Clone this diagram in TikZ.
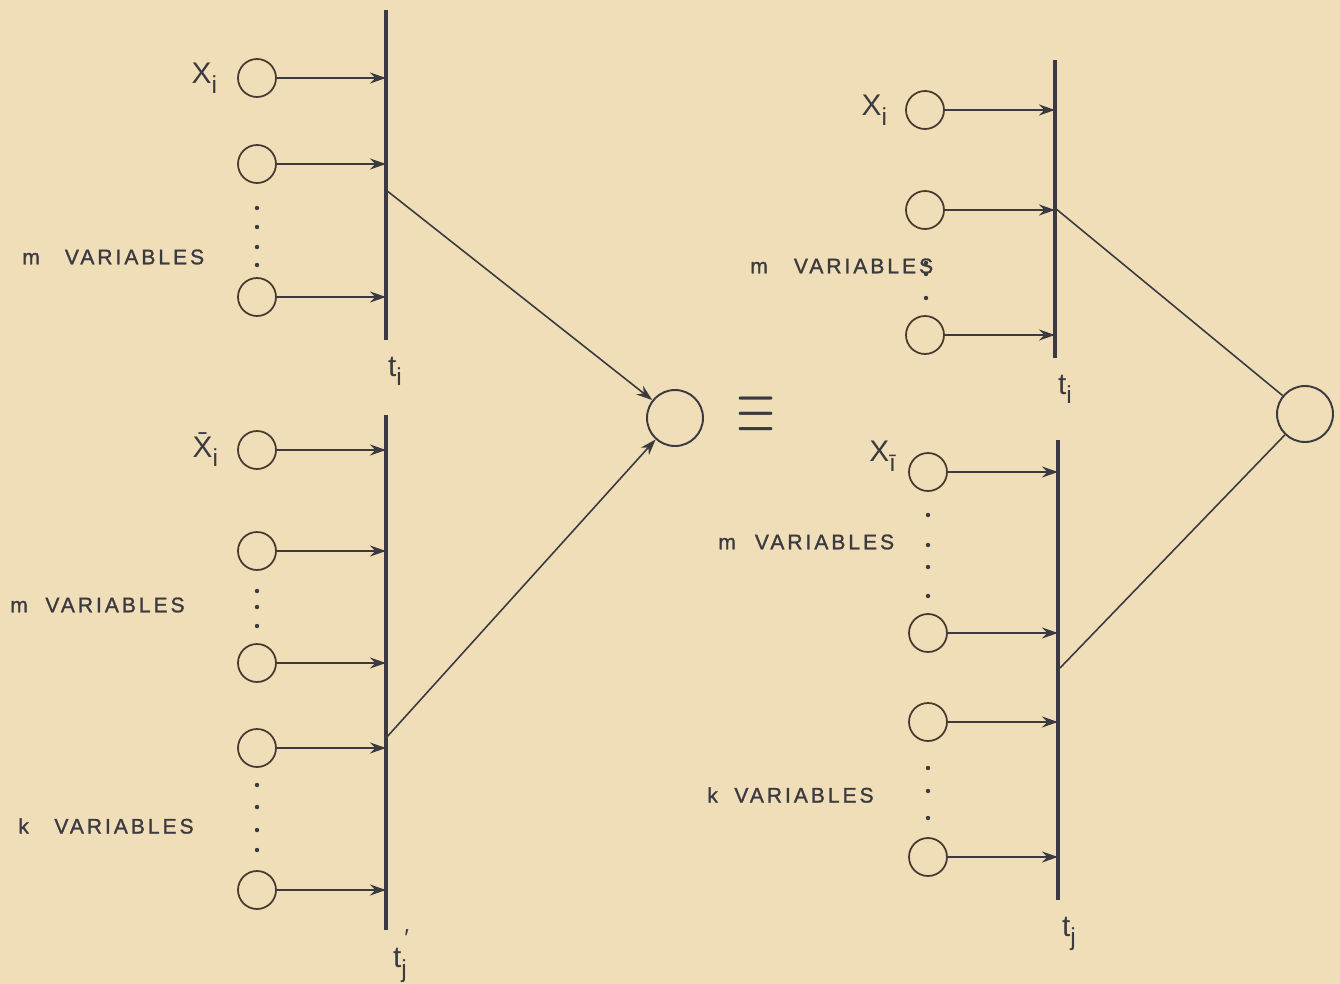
\documentclass[tikz,border=0pt]{standalone}
\usepackage{fontspec}
\setmainfont{Liberation Sans}
\usetikzlibrary{positioning, arrows.meta}
\definecolor{paperbeige}{RGB}{240,222,184}
\definecolor{inkgray}{RGB}{58,58,64}
\definecolor{inkbrown}{RGB}{72,58,48}
\newcommand{\lowidx}[1]{\raisebox{-0.6ex}{\fontsize{14}{14}\selectfont #1}}
\tikzset{
  var/.style={circle, draw=inkbrown, line width=1pt, minimum size=0.76cm, inner sep=0pt},
  outvar/.style={circle, draw=inkgray, line width=1.1pt, minimum size=1.12cm, inner sep=0pt},
  bar/.style={draw=inkgray, line width=2.6pt},
  feed/.style={draw=inkgray, line width=1.1pt, -{Stealth[length=3.2mm,width=2.2mm]}},
  link/.style={draw=inkgray, line width=0.9pt},
  lbl/.style={font=\fontsize{12}{12}\selectfont\addfontfeature{LetterSpace=14,FakeBold=1.2}, text=inkgray, inner sep=0pt, anchor=west},
  vname/.style={font=\fontsize{17}{17}\selectfont, text=inkgray, inner sep=1pt},
  eqsign/.style={font=\fontsize{25}{25}\selectfont, text=inkgray, transform shape, xscale=1.15, yscale=1.8},
  dot/.style={fill=inkgray}
}
\begin{document}
\begin{tikzpicture}[x=0.02cm, y=-0.02cm]
  \fill[paperbeige] (0,0) rectangle (1340,984);
  \useasboundingbox (0,0) rectangle (1340,984);

  % bars of the four terms
  \coordinate (tl) at (386,10);   \coordinate (tlb) at (386,340);
  \coordinate (bl) at (386,415);  \coordinate (blb) at (386,930);
  \coordinate (tr) at (1055,60);  \coordinate (trb) at (1055,358);
  \coordinate (br) at (1058,440); \coordinate (brb) at (1058,900);
  \draw[bar] (tl) -- (tlb);
  \draw[bar] (bl) -- (blb);
  \draw[bar] (tr) -- (trb);
  \draw[bar] (br) -- (brb);

  % input variables
  \foreach \y [count=\n] in {78,164,297}
    \node[var] (a\n) at (257,\y) {};
  \foreach \y [count=\n] in {450,551,663,748,890}
    \node[var] (b\n) at (257,\y) {};
  \foreach \y [count=\n] in {110,210,335}
    \node[var] (c\n) at (925,\y) {};
  \foreach \y [count=\n] in {472,633,722,857}
    \node[var] (d\n) at (928,\y) {};

  \foreach \n in {1,2,3} \draw[feed] (a\n) -- (a\n -| tl);
  \foreach \n in {1,...,5} \draw[feed] (b\n) -- (b\n -| bl);
  \foreach \n in {1,2,3} \draw[feed] (c\n) -- (c\n -| tr);
  \foreach \n in {1,...,4} \draw[feed] (d\n) -- (d\n -| br);

  % dots
  \foreach \y in {208,227,247,265} \fill[dot] (257,\y) circle (2.2);
  \foreach \y in {591,607,626} \fill[dot] (257,\y) circle (2.2);
  \foreach \y in {785,807,830,850} \fill[dot] (257,\y) circle (2.2);
  \foreach \y in {263,274,298} \fill[dot] (926,\y) circle (2.2);
  \foreach \y in {515,545,567,596} \fill[dot] (928,\y) circle (2.2);
  \foreach \y in {768,791,818} \fill[dot] (928,\y) circle (2.2);

  % outputs
  \node[outvar] (o1) at (675,418) {};
  \node[outvar] (o2) at (1305,414) {};
  \coordinate (tlo) at (386,190);
  \coordinate (blo) at (386,738);
  \coordinate (tro) at (1055,208);
  \coordinate (bro) at (1060,668);
  \draw[feed, line width=0.9pt] (tlo) -- (o1);
  \draw[feed, line width=0.9pt] (blo) -- (o1);
  \draw[link] (tro) -- (o2);
  \draw[link] (bro) -- (o2);

  \node[eqsign] (eq) at (756,415) {$\equiv$};

  % names
  \node[vname, left=0.36cm of a1] (xa) {X\lowidx{i}};
  \node[vname, left=0.34cm of b1] (xb) {\={X}\lowidx{i}};
  \node[vname, left=0.32cm of c1] (xc) {X\lowidx{i}};
  \node[vname, left=0.2cm of d1, yshift=0.32cm] (xd) {X\lowidx{\={\i}}};
  \node[vname, below=0.3cm of tlb, xshift=0.18cm] (ta) {t\lowidx{i}};
  \node[vname, below=-0.05cm of blb, xshift=0.3cm] (tb) {t\lowidx{j}\kern-1.5pt\raisebox{12pt}{\fontsize{14}{14}\selectfont ′}};
  \node[vname, below=0.3cm of trb, xshift=0.2cm] (tc) {t\lowidx{i}};
  \node[vname, below=0.3cm of brb, xshift=0.22cm] (td) {t\lowidx{j}};

  % group labels
  \node[lbl] (la) at (22,257) {m\hspace{0.5cm}VARIABLES};
  \node[lbl] (lb) at (10,605) {m\hspace{0.35cm}VARIABLES};
  \node[lbl] (lc) at (18,826) {k\hspace{0.51cm}VARIABLES};
  \node[lbl] (ld) at (750,266) {m\hspace{0.52cm}VARIABLES};
  \node[lbl] (le) at (718,542) {m\hspace{0.38cm}VARIABLES};
  \node[lbl] (lf) at (707,795) {k\hspace{0.33cm}VARIABLES};
\end{tikzpicture}
\end{document}
